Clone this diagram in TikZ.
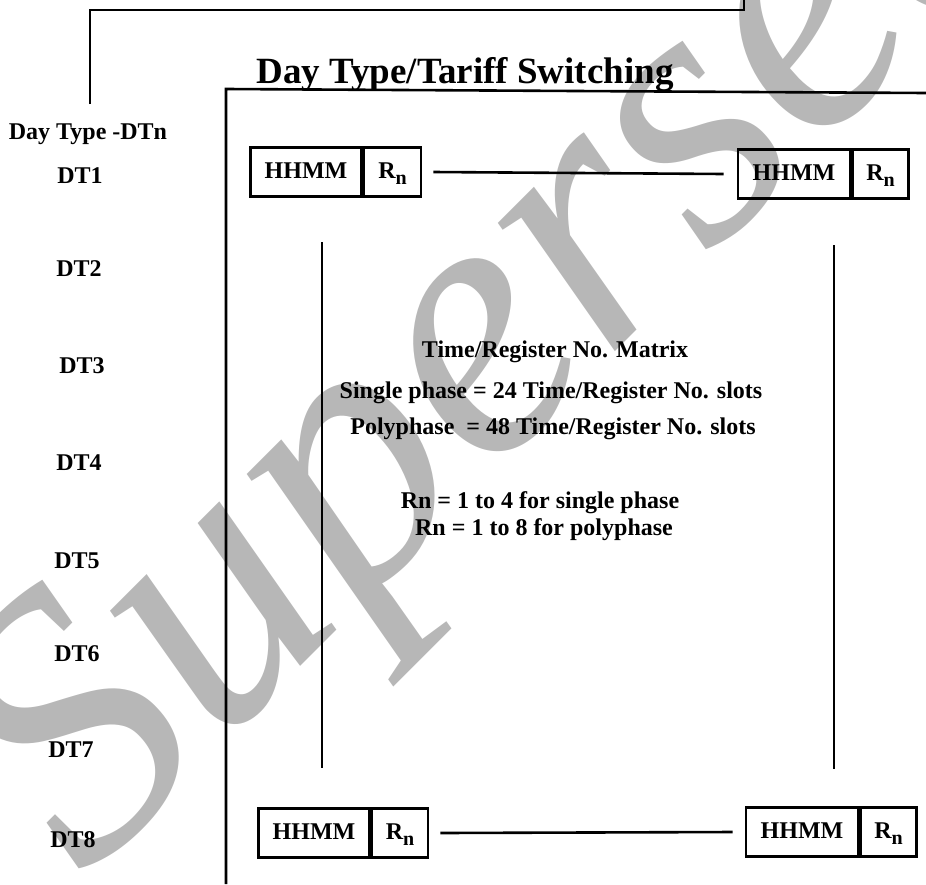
\documentclass[tikz,border=0pt]{standalone}
\usepackage{fontspec}
\setmainfont{Liberation Serif}
\usetikzlibrary{positioning}
\definecolor{wmgrey}{RGB}{183,183,183}
\newcommand{\regn}{R\raisebox{-6pt}{\fontsize{20}{20}\selectfont n}}
\tikzset{
  cell/.style={draw, line width=2.6pt, minimum height=49pt, inner sep=0pt, text height=16pt, text depth=4pt, font=\bfseries\fontsize{24}{26}\selectfont},
  dtlabel/.style={anchor=base, inner sep=0pt, font=\bfseries\fontsize{24}{26}\selectfont},
  frame/.style={line width=2.6pt}
}
\begin{document}
\begin{tikzpicture}[x=1pt, y=-1pt]
    \useasboundingbox (0,0) rectangle (926,884);
    % 透かし
    \begin{scope}
      \clip (0,0) rectangle (926,884);
      \node[rotate=45, anchor=base west, inner sep=0pt, text=wmgrey, font=\itshape\fontsize{378}{378}\selectfont] (wm) at (85,882) {Superseded};
    \end{scope}

    % 枠
    \coordinate (a1) at (90,104);
    \coordinate (a2) at (90,10);
    \coordinate (a3) at (744,10);
    \coordinate (a4) at (744,0);
    \coordinate (f1) at (226,884);
    \coordinate (f2) at (226,89);
    \coordinate (f3) at (926,93);
    \draw[frame] (a1) -- (a2) -- (a3) -- (a4);
    \draw[frame] (f1) -- (f2) -- (f3);

    % タイトル
    \node[anchor=base, inner sep=0pt, font=\bfseries\fontsize{37}{40}\selectfont] (title) at (465,83) {Day Type/Tariff Switching};

    % 日種ラベル
    \node[dtlabel] (DTn) at (88,139) {Day Type -DTn};
    \node[dtlabel] (DT1) at (80,183) {DT1};
    \node[dtlabel] (DT2) at (79,276) {DT2};
    \node[dtlabel] (DT3) at (82,373) {DT3};
    \node[dtlabel] (DT4) at (79,470) {DT4};
    \node[dtlabel] (DT5) at (77,568) {DT5};
    \node[dtlabel] (DT6) at (77,661) {DT6};
    \node[dtlabel] (DT7) at (71,757) {DT7};
    \node[dtlabel] (DT8) at (73,847) {DT8};

    % ノード
    \node[cell, minimum width=111pt] (H1) at (306,172) {HHMM};
    \node[cell, minimum width=57pt, right=0pt of H1] (R1) {\regn};
    \node[cell, minimum width=112pt] (H2) at (794,174) {HHMM};
    \node[cell, minimum width=56pt, right=0pt of H2] (R2) {\regn};
    \node[cell, minimum width=111pt] (H3) at (314,833) {HHMM};
    \node[cell, minimum width=56pt, right=0pt of H3] (R3) {\regn};
    \node[cell, minimum width=112pt] (H4) at (802,832) {HHMM};
    \node[cell, minimum width=56pt, right=0pt of H4] (R4) {\regn};

    % エッジ
    \draw[frame] ([xshift=11pt]R1.east) -- ([xshift=-13pt]H2.west);
    \draw[frame] ([xshift=11pt]R3.east) -- ([xshift=-12pt]H4.west);
    \coordinate (v1) at (322,242);
    \coordinate (v2) at (322,768);
    \coordinate (v3) at (834,245);
    \coordinate (v4) at (834,769);
    \draw[frame] (v1) -- (v2);
    \draw[frame] (v3) -- (v4);

    % 説明文
    \node[dtlabel] (mat) at (555,357) {Time/Register No. Matrix};
    \node[dtlabel] (sp) at (551,398) {Single phase = 24 Time/Register No. slots};
    \node[dtlabel] (pp) at (553,434) {Polyphase~ = 48 Time/Register No. slots};
    \node[dtlabel] (rn1) at (540,508) {Rn = 1 to 4 for single phase};
    \node[dtlabel] (rn2) at (544,535) {Rn = 1 to 8 for polyphase};
  \end{tikzpicture}
\end{document}
